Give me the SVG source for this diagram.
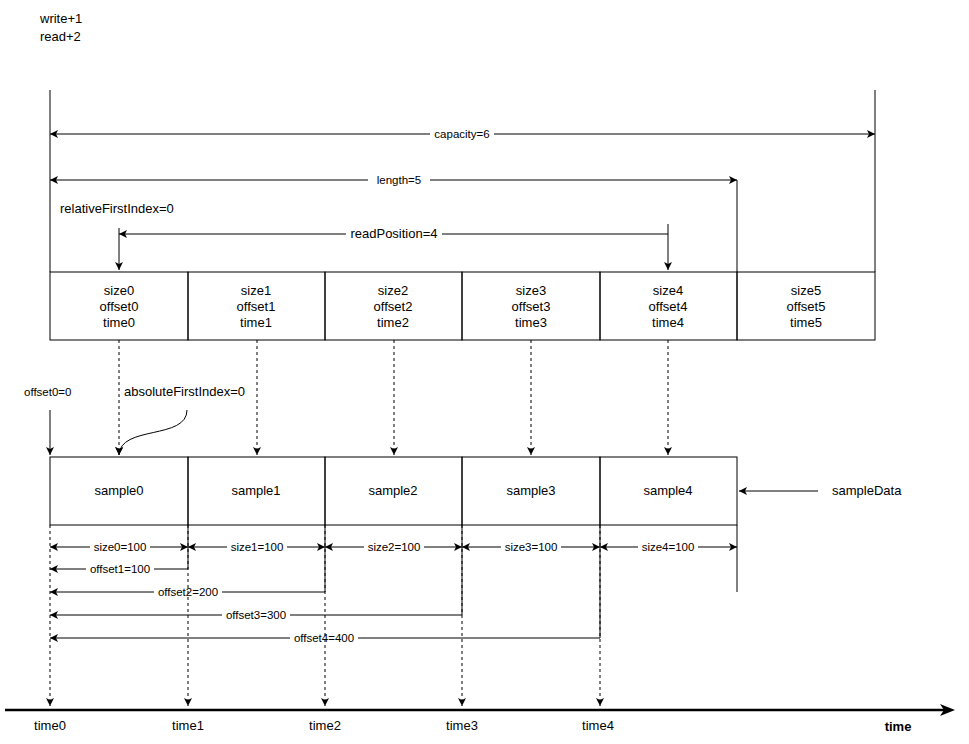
<svg xmlns="http://www.w3.org/2000/svg" width="969" height="744" viewBox="0 0 969 744">
<style>
text{font-family:"Liberation Sans",Arial,sans-serif;font-size:13px;fill:#000}
.c{text-anchor:middle}
.l{font-size:11.5px}
.s{stroke:#000;stroke-width:1;fill:none}
.d{stroke:#000;stroke-width:1;fill:none;stroke-dasharray:3 3}
.lb{fill:#fff}
</style>
<defs>
<marker id="a" markerWidth="10" markerHeight="10" refX="8" refY="5" orient="auto-start-reverse" markerUnits="userSpaceOnUse">
<path d="M0,1 L8,5 L0,9 L2,5 Z" fill="#000"/>
</marker>
</defs>
<rect width="969" height="744" fill="#fff"/>
<text x="40" y="23">write+1</text>
<text x="40" y="41">read+2</text>
<g id="top-cells">
<g id="c0"><rect x="50" y="272" width="138" height="68" class="s"/><text x="119" y="295" class="c">size0</text><text x="119" y="311" class="c">offset0</text><text x="119" y="327" class="c">time0</text></g>
<g id="c1"><rect x="188" y="272" width="137" height="68" class="s"/><text x="256" y="295" class="c">size1</text><text x="256" y="311" class="c">offset1</text><text x="256" y="327" class="c">time1</text></g>
<g id="c2"><rect x="325" y="272" width="137" height="68" class="s"/><text x="393" y="295" class="c">size2</text><text x="393" y="311" class="c">offset2</text><text x="393" y="327" class="c">time2</text></g>
<g id="c3"><rect x="462" y="272" width="138" height="68" class="s"/><text x="531" y="295" class="c">size3</text><text x="531" y="311" class="c">offset3</text><text x="531" y="327" class="c">time3</text></g>
<g id="c4"><rect x="600" y="272" width="137" height="68" class="s"/><text x="668" y="295" class="c">size4</text><text x="668" y="311" class="c">offset4</text><text x="668" y="327" class="c">time4</text></g>
<g id="c5"><rect x="737" y="272" width="138" height="68" class="s"/><text x="806" y="295" class="c">size5</text><text x="806" y="311" class="c">offset5</text><text x="806" y="327" class="c">time5</text></g>
</g>
<g id="samples">
<g id="s0"><rect x="50" y="457" width="138" height="68" class="s"/><text x="119" y="495" class="c">sample0</text></g>
<g id="s1"><rect x="188" y="457" width="137" height="68" class="s"/><text x="256" y="495" class="c">sample1</text></g>
<g id="s2"><rect x="325" y="457" width="137" height="68" class="s"/><text x="393" y="495" class="c">sample2</text></g>
<g id="s3"><rect x="462" y="457" width="138" height="68" class="s"/><text x="531" y="495" class="c">sample3</text></g>
<g id="s4"><rect x="600" y="457" width="137" height="68" class="s"/><text x="668" y="495" class="c">sample4</text></g>
</g>
<g id="connectors">
<path class="s" d="M50,90 V272 M875,90 V272 M737,180 V272"/>
<path class="s" d="M50,134 H875" marker-start="url(#a)" marker-end="url(#a)"/>
<rect x="430" y="127" width="64" height="13" class="lb"/><text x="462" y="138" class="c l">capacity=6</text>
<path class="s" d="M50,180 H737" marker-start="url(#a)" marker-end="url(#a)"/>
<rect x="368" y="173" width="62" height="13" class="lb"/><text x="399" y="184" class="c l">length=5</text>
<text x="60" y="213">relativeFirstIndex=0</text>
<path class="s" d="M668,234 H119" marker-end="url(#a)"/>
<rect x="346" y="227" width="96" height="14" class="lb"/><text x="394" y="238" class="c">readPosition=4</text>
<path class="s" d="M119,228 V270" marker-end="url(#a)"/>
<path class="s" d="M668,224 V270" marker-end="url(#a)"/>
<path class="d" d="M119,340 V455" marker-end="url(#a)"/>
<path class="d" d="M257,340 V455" marker-end="url(#a)"/>
<path class="d" d="M394,340 V455" marker-end="url(#a)"/>
<path class="d" d="M531,340 V455" marker-end="url(#a)"/>
<path class="d" d="M668,340 V455" marker-end="url(#a)"/>
<text x="24" y="396" class="l">offset0=0</text>
<path class="s" d="M50,410 V455" marker-end="url(#a)"/>
<text x="124" y="396">absoluteFirstIndex=0</text>
<path class="s" d="M187,410 C187,440 120,425 119,455" marker-end="url(#a)"/>
<text x="832" y="495">sampleData</text>
<path class="s" d="M818,491 H739" marker-end="url(#a)"/>
<path class="s" d="M737,525 V592 M188,525 V569 M325,525 V592 M462,525 V615 M600,525 V638"/>
<path class="s" d="M50,547 H188" marker-start="url(#a)" marker-end="url(#a)"/>
<path class="s" d="M188,547 H325" marker-start="url(#a)" marker-end="url(#a)"/>
<path class="s" d="M325,547 H462" marker-start="url(#a)" marker-end="url(#a)"/>
<path class="s" d="M462,547 H600" marker-start="url(#a)" marker-end="url(#a)"/>
<path class="s" d="M600,547 H737" marker-start="url(#a)" marker-end="url(#a)"/>
<rect x="90" y="541" width="60" height="12" class="lb"/><text x="120" y="551" class="c l">size0=100</text>
<rect x="227" y="541" width="60" height="12" class="lb"/><text x="257" y="551" class="c l">size1=100</text>
<rect x="364" y="541" width="60" height="12" class="lb"/><text x="394" y="551" class="c l">size2=100</text>
<rect x="501" y="541" width="60" height="12" class="lb"/><text x="531" y="551" class="c l">size3=100</text>
<rect x="638" y="541" width="60" height="12" class="lb"/><text x="668" y="551" class="c l">size4=100</text>
<path class="s" d="M188,569 H50" marker-end="url(#a)"/>
<rect x="86" y="563" width="68" height="12" class="lb"/><text x="120" y="573" class="c l">offset1=100</text>
<path class="s" d="M325,592 H50" marker-end="url(#a)"/>
<rect x="154" y="586" width="68" height="12" class="lb"/><text x="188" y="596" class="c l">offset2=200</text>
<path class="s" d="M462,615 H50" marker-end="url(#a)"/>
<rect x="222" y="609" width="68" height="12" class="lb"/><text x="256" y="619" class="c l">offset3=300</text>
<path class="s" d="M600,638 H50" marker-end="url(#a)"/>
<rect x="290" y="632" width="68" height="12" class="lb"/><text x="324" y="642" class="c l">offset4=400</text>
<path class="d" d="M50,525 V706" marker-end="url(#a)"/>
<path class="d" d="M188,525 V706" marker-end="url(#a)"/>
<path class="d" d="M325,525 V706" marker-end="url(#a)"/>
<path class="d" d="M462,525 V706" marker-end="url(#a)"/>
<path class="d" d="M600,525 V706" marker-end="url(#a)"/>
<path d="M5,710 H945" stroke="#000" stroke-width="2.5" fill="none"/>
<path d="M940,704 L955,710 L940,716 L944,710 Z" fill="#000"/>
</g>
<text x="50" y="730" class="c">time0</text>
<text x="188" y="730" class="c">time1</text>
<text x="325" y="730" class="c">time2</text>
<text x="462" y="730" class="c">time3</text>
<text x="598" y="730" class="c">time4</text>
<text x="898" y="731" class="c" font-weight="bold">time</text>
</svg>
